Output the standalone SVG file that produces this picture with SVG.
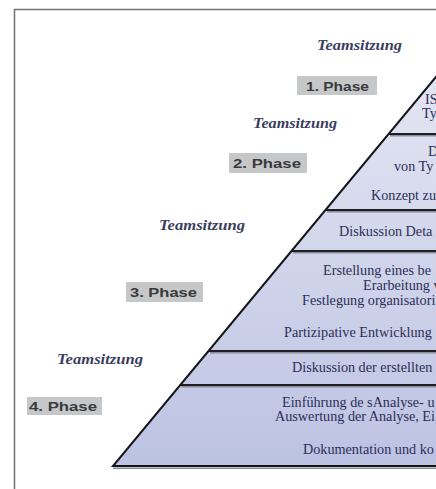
<svg xmlns="http://www.w3.org/2000/svg" width="436" height="489" viewBox="0 0 436 489">
  <style>
    .frame { fill: none; stroke: #737373; stroke-width: 1.5; }
    .sep { stroke: #1e1e24; stroke-width: 2.2; }
    .sep-shadow { stroke: #8a8c98; stroke-width: 1.4; }
    .edge { fill: none; stroke: #15151a; stroke-width: 2; stroke-linejoin: miter; }
    .band-text { font-family: "Liberation Serif", "Times New Roman", serif; font-size: 14.2px; fill: #2c2f57; }
    .meeting { font-family: "Liberation Serif", "Times New Roman", serif; font-size: 15px; font-style: italic; font-weight: bold; fill: #3b3d5e; }
    .phase-box { fill: #c6c7c8; }
    .phase-text { font-family: "Liberation Sans", Arial, sans-serif; font-size: 13.5px; font-weight: bold; fill: #3a3a3c; }
  </style>
  <defs>
    <linearGradient id="pyramidFill" x1="0" y1="72" x2="0" y2="466" gradientUnits="userSpaceOnUse">
      <stop offset="0" stop-color="#e4e6f3"/>
      <stop offset="1" stop-color="#bcc2e2"/>
    </linearGradient>
  </defs>

  <rect width="436" height="489" fill="#ffffff"/>

  <!-- page frame -->
  <path class="frame" d="M14.5 489 V9.5 H436"/>

  <!-- pyramid body -->
  <g id="pyramid">
    <polygon points="113,466 440,466 440,72" fill="url(#pyramidFill)"/>
  </g>

  <!-- band dividers and outline -->
  <g id="connectors">
    <line class="sep-shadow" x1="390" y1="135.8" x2="436" y2="135.8"/>
    <line class="sep" x1="388.6" y1="134" x2="436" y2="134"/>
    <line class="sep-shadow" x1="327" y1="211.8" x2="436" y2="211.8"/>
    <line class="sep" x1="325.5" y1="210" x2="436" y2="210"/>
    <line class="sep-shadow" x1="293" y1="252.8" x2="436" y2="252.8"/>
    <line class="sep" x1="291.5" y1="251" x2="436" y2="251"/>
    <line class="sep-shadow" x1="210" y1="352.8" x2="436" y2="352.8"/>
    <line class="sep" x1="208.5" y1="351" x2="436" y2="351"/>
    <line class="sep-shadow" x1="181.5" y1="386.8" x2="436" y2="386.8"/>
    <line class="sep" x1="180" y1="385" x2="436" y2="385"/>
    <line class="sep-shadow" x1="113" y1="468.2" x2="436" y2="468.2"/>
    <polyline class="edge" points="440,72 113,466 436,466"/>
  </g>

  <!-- band texts -->
  <g id="band-1">
    <text class="band-text" x="425" y="104">IS</text>
    <text class="band-text" x="422" y="118">Ty</text>
  </g>
  <g id="band-2">
    <text class="band-text" x="428" y="156">D</text>
    <text class="band-text" x="394" y="171">von Ty</text>
    <text class="band-text" x="371" y="200">Konzept zu</text>
  </g>
  <g id="band-3">
    <text class="band-text" x="339" y="236">Diskussion Deta</text>
  </g>
  <g id="band-4">
    <text class="band-text" x="323" y="275">Erstellung eines be</text>
    <text class="band-text" x="363" y="290">Erarbeitung v</text>
    <text class="band-text" x="302" y="305">Festlegung organisatori</text>
    <text class="band-text" x="284" y="337">Partizipative Entwicklung</text>
  </g>
  <g id="band-5">
    <text class="band-text" x="292" y="372">Diskussion der erstellten</text>
  </g>
  <g id="band-6">
    <text class="band-text" x="282" y="407">Einführung de sAnalyse- u</text>
    <text class="band-text" x="275" y="421">Auswertung der Analyse, Ei</text>
    <text class="band-text" x="303" y="454">Dokumentation und ko</text>
  </g>

  <!-- team meetings -->
  <g id="meeting-1"><text class="meeting" x="317" y="50" textLength="85" lengthAdjust="spacingAndGlyphs">Teamsitzung</text></g>
  <g id="meeting-2"><text class="meeting" x="253" y="128" textLength="84" lengthAdjust="spacingAndGlyphs">Teamsitzung</text></g>
  <g id="meeting-3"><text class="meeting" x="159" y="230" textLength="86" lengthAdjust="spacingAndGlyphs">Teamsitzung</text></g>
  <g id="meeting-4"><text class="meeting" x="57" y="364" textLength="86" lengthAdjust="spacingAndGlyphs">Teamsitzung</text></g>

  <!-- phase labels -->
  <g id="phase-1">
    <rect class="phase-box" x="297" y="76" width="80" height="19"/>
    <text class="phase-text" x="306" y="90.5" textLength="63" lengthAdjust="spacingAndGlyphs">1. Phase</text>
  </g>
  <g id="phase-2">
    <rect class="phase-box" x="229" y="153" width="78" height="20"/>
    <text class="phase-text" x="233" y="168" textLength="68" lengthAdjust="spacingAndGlyphs">2. Phase</text>
  </g>
  <g id="phase-3">
    <rect class="phase-box" x="126" y="282" width="77" height="20"/>
    <text class="phase-text" x="130" y="297" textLength="67" lengthAdjust="spacingAndGlyphs">3. Phase</text>
  </g>
  <g id="phase-4">
    <rect class="phase-box" x="27" y="397" width="75" height="18"/>
    <text class="phase-text" x="29" y="411" textLength="68" lengthAdjust="spacingAndGlyphs">4. Phase</text>
  </g>
</svg>
